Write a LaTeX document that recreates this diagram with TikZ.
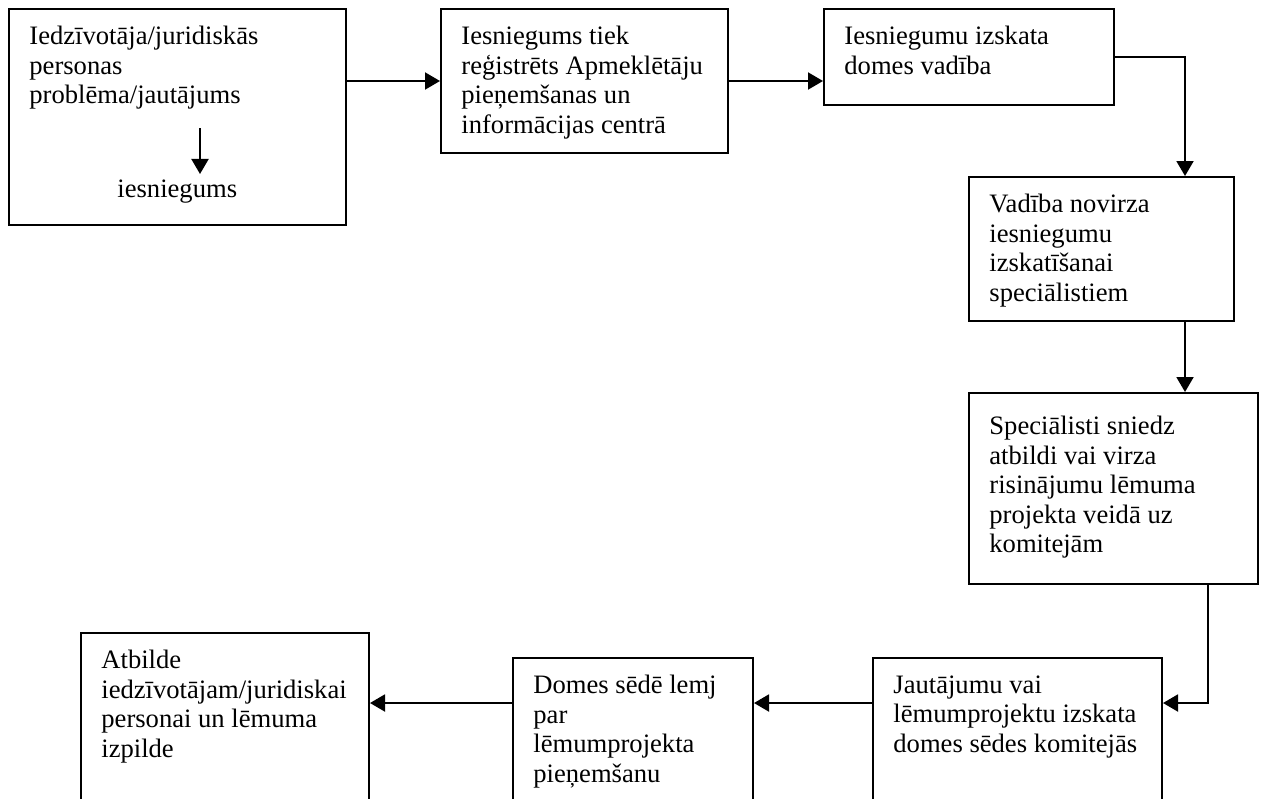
\documentclass[tikz,border=0pt]{standalone}
\usepackage{fontspec}
\setmainfont{Liberation Serif}
\usetikzlibrary{arrows.meta}

\tikzset{
  stepbox/.style={draw, line width=1pt, anchor=north west, inner sep=0pt},
  steptext/.style={anchor=north west, align=left, inner xsep=10.5pt, inner ysep=9pt,
    font=\fontsize{13.3}{14.75}\selectfont},
  flow/.style={line width=1pt, -{Triangle[length=7.5pt,width=8.5pt]}}
}

\begin{document}
\begin{tikzpicture}[x=0.5pt,y=-0.5pt]
  \useasboundingbox (0,0) rectangle (1261,798);
  \clip (0,0) rectangle (1261,798);
  % boxes
  \node[stepbox, minimum width=168.5pt, minimum height=108pt] (b1) at (8,8) {};
  \node[stepbox, minimum width=143.5pt, minimum height=72pt] (b2) at (440,8) {};
  \node[stepbox, minimum width=145pt, minimum height=48pt] (b3) at (823,8) {};
  \node[stepbox, minimum width=132.5pt, minimum height=72pt] (b4) at (968,176) {};
  \node[stepbox, minimum width=144.5pt, minimum height=95.5pt] (b5) at (968,392) {};
  \node[stepbox, minimum width=144.5pt, minimum height=100pt] (b6) at (872,657) {};
  \node[stepbox, minimum width=120pt, minimum height=100pt] (b7) at (512,657) {};
  \node[stepbox, minimum width=144pt, minimum height=110pt] (b8) at (80,632) {};
  % texts
  \node[steptext] (t1) at (b1.north west) {Iedzīvotāja/juridiskās\\personas\\problēma/jautājums};
  \node[anchor=base west, inner xsep=0pt, inner ysep=2.5pt, font=\fontsize{13.3}{14.75}\selectfont]
    (iesn) at (117,197) {iesniegums};
  \node[steptext] (t2) at (b2.north west) {Iesniegums tiek\\reģistrēts Apmeklētāju\\pieņemšanas un\\informācijas centrā};
  \node[steptext] (t3) at (b3.north west) {Iesniegumu izskata\\domes vadība};
  \node[steptext] (t4) at (b4.north west) {Vadība novirza\\iesniegumu\\izskatīšanai\\speciālistiem};
  \node[steptext, yshift=-3pt] (t5) at (b5.north west) {Speciālisti sniedz\\atbildi vai virza\\risinājumu lēmuma\\projekta veidā uz\\komitejām};
  \node[steptext] (t6) at (b6.north west) {Jautājumu vai\\lēmumprojektu izskata\\domes sēdes komitejās};
  \node[steptext] (t7) at (b7.north west) {Domes sēdē lemj\\par\\lēmumprojekta\\pieņemšanu};
  \node[steptext] (t8) at (b8.north west) {Atbilde\\iedzīvotājam/juridiskai\\personai un lēmuma\\izpilde};
  % connectors
  \coordinate (down) at (200,128);
  \coordinate (drop) at (1185,0);
  \coordinate (rail) at (1208,703);
  \draw[flow] (down) -- (down |- iesn.north);
  \draw[flow] (b1.east |- b2.west) -- (b2.west);
  \draw[flow] (b2.east) -- (b2.east -| b3.west);
  \draw[flow] (b3.east) -| (drop |- b4.north);
  \draw[flow] (drop |- b4.south) -- (drop |- b5.north);
  \draw[flow] (rail |- b5.south) |- (b6.east |- rail);
  \draw[flow] (b6.west |- rail) -- (b7.east |- rail);
  \draw[flow] (b7.west |- rail) -- (b8.east |- rail);
\end{tikzpicture}
\end{document}
